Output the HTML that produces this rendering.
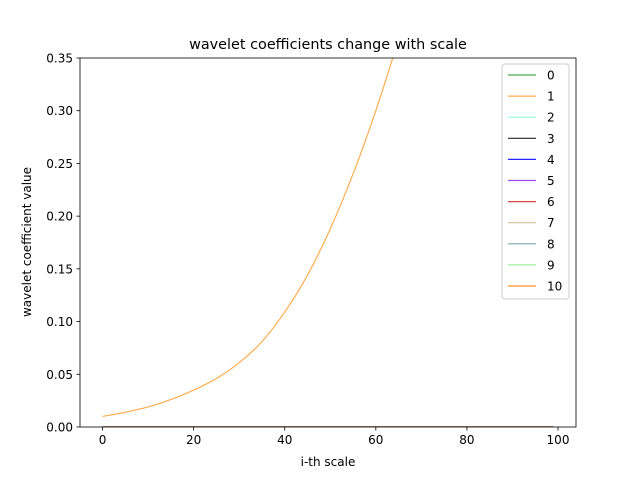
<!DOCTYPE html>
<html><head><meta charset="utf-8"><style>
body{margin:0;background:#fff;}
svg text{font-family:"DejaVu Sans","Liberation Sans",sans-serif;fill:#000;}
</style></head><body>
<svg id="chart" width="640" height="480" xmlns="http://www.w3.org/2000/svg">
<rect width="640" height="480" fill="#fff"/>
<text x="328" y="49" font-size="14.4" text-anchor="middle">wavelet coefficients change with scale</text>
<text x="328" y="466" font-size="12" text-anchor="middle">i-th scale</text>
<text transform="translate(31,242) rotate(-90)" font-size="12" text-anchor="middle">wavelet coefficient value</text>
<defs><clipPath id="plotclip"><rect x="80" y="58" width="496" height="369"/></clipPath></defs>
<g id="series" clip-path="url(#plotclip)"></g>
<g id="axes"></g>
<g id="legend"></g>
</svg>
<script>
const xTicks=[0,20,40,60,80,100];
const yTicks=[0.00,0.05,0.10,0.15,0.20,0.25,0.30,0.35];
const yTickLabels=["0.00","0.05","0.10","0.15","0.20","0.25","0.30","0.35"];
const seriesNames=["0","1","2","3","4","5","6","7","8","9","10"];
const seriesColors=["#2ca02c","#ff9f30","#7fffd4","#000000","#0000ff","#8a2be2","#d62728","#d2b48c","#5f9ea0","#90ee90","#ff7f0e"];
const series1X=[0,5,10,15,20,25,30,35,40,45,50,55,60,65,70,80,99];
const series1Y=[0.010,0.014,0.019,0.026,0.035,0.046,0.061,0.081,0.109,0.144,0.188,0.240,0.300,0.368,0.44,0.6,0.9];
const flatX=[0,99];
const flatY=[0,0];
const ns="http://www.w3.org/2000/svg";
const L=80,R=576,T=58,B=427,xmin=-4.95,xmax=103.95,ymin=0,ymax=0.35;
const sx=v=>L+(v-xmin)/(xmax-xmin)*(R-L);
const sy=v=>B-(v-ymin)/(ymax-ymin)*(B-T);
function mk(tag,attrs,parent){const e=document.createElementNS(ns,tag);for(const k in attrs)e.setAttribute(k,attrs[k]);parent.appendChild(e);return e;}
function smoothPath(xs,ys){
  const P=xs.map((x,j)=>[sx(x),sy(ys[j])]);
  let d="M"+P[0][0].toFixed(2)+","+P[0][1].toFixed(2);
  for(let i=0;i<P.length-1;i++){
    const p0=P[Math.max(0,i-1)],p1=P[i],p2=P[i+1],p3=P[Math.min(P.length-1,i+2)];
    const c1=[p1[0]+(p2[0]-p0[0])/6,p1[1]+(p2[1]-p0[1])/6];
    const c2=[p2[0]-(p3[0]-p1[0])/6,p2[1]-(p3[1]-p1[1])/6];
    d+=" C"+c1.map(v=>v.toFixed(2)).join(",")+" "+c2.map(v=>v.toFixed(2)).join(",")+" "+p2.map(v=>v.toFixed(2)).join(",");
  }
  return d;
}
const sg=document.getElementById('series');
seriesNames.forEach((n,i)=>{
  const xs=i===1?series1X:flatX, ys=i===1?series1Y:flatY;
  const p=mk('path',{d:smoothPath(xs,ys),fill:'none',stroke:seriesColors[i],'stroke-width':1.2,opacity:0.85},sg);
  
  
});
const ag=document.getElementById('axes');
const frame=mk('rect',{x:L,y:T,width:R-L,height:B-T,fill:'none',stroke:'#000','stroke-width':0.8},ag);


xTicks.forEach(t=>{
  const x=sx(t);
  mk('line',{x1:x,x2:x,y1:B,y2:B+3.5,stroke:'#000','stroke-width':0.8},ag);
  const tx=mk('text',{x:x,y:B+17,'font-size':12,'text-anchor':'middle'},ag);
  tx.textContent=t;
  
  
});
yTicks.forEach((t,i)=>{
  const y=sy(t);
  mk('line',{x1:L-3.5,x2:L,y1:y,y2:y,stroke:'#000','stroke-width':0.8},ag);
  const tx=mk('text',{x:L-7,y:y+4.5,'font-size':12,'text-anchor':'end'},ag);
  tx.textContent=yTickLabels[i];
  
  
});
const lg=document.getElementById('legend');
const box=mk('rect',{x:502,y:64,width:67,height:235,rx:3,fill:'#fff','fill-opacity':0.8,stroke:'#ccc','stroke-width':1},lg);


seriesNames.forEach((n,i)=>{
  const y=75+i*21.1;
  const g=mk('g',{},lg);
  
  
  mk('line',{x1:508,x2:536,y1:y,y2:y,stroke:seriesColors[i],'stroke-width':1.2,opacity:0.85},g);
  const tx=mk('text',{x:547,y:y+4.5,'font-size':12},g);
  tx.textContent=n;
});
</script>
</body></html>
